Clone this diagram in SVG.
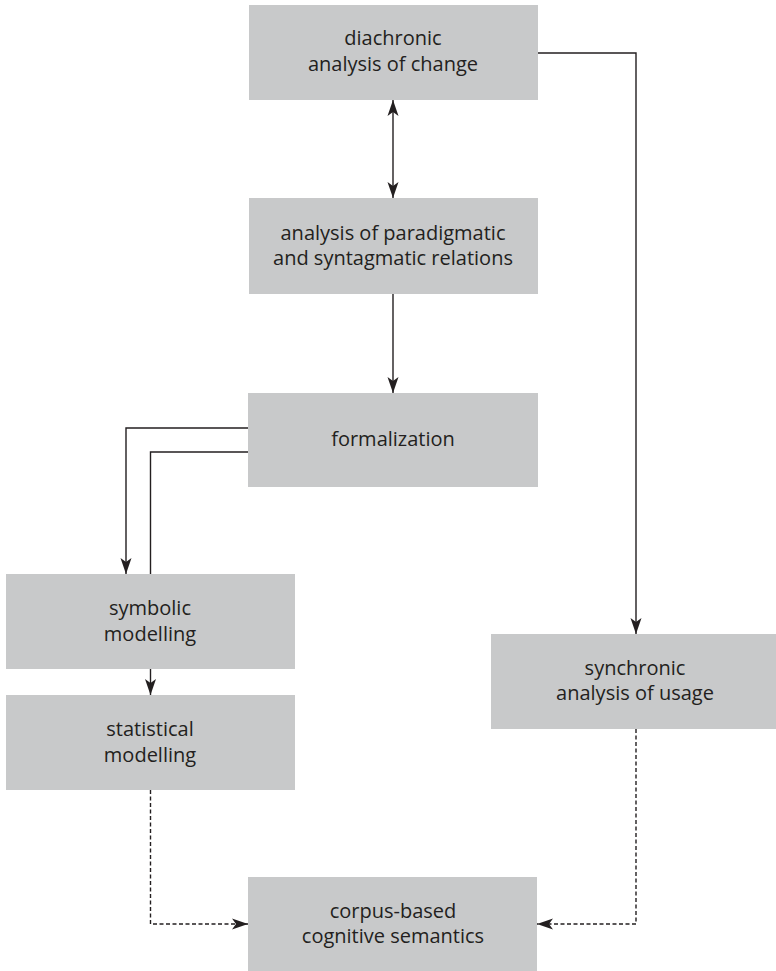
<svg xmlns="http://www.w3.org/2000/svg" width="776" height="971" viewBox="0 0 776 971">
<style>
.box{fill:#c8c9ca}
.t{font-family:"Open Sans","Noto Sans",sans-serif;font-size:20px;fill:#231f20;text-anchor:middle}
.c{fill:none;stroke:#231f20;stroke-width:1.4}
.d{stroke-dasharray:4 2.5}
</style>
<defs>
<marker id="ah" viewBox="-16 -6 17 12" refX="0" refY="0" markerWidth="17" markerHeight="12" markerUnits="userSpaceOnUse" orient="auto-start-reverse">
<path d="M0,0 L-16,-5.5 L-12,0 L-16,5.5 Z" fill="#231f20"/>
</marker>
</defs>
<g id="n-diachronic"><rect class="box" x="249" y="5" width="289" height="95"/><text class="t" x="393" y="45">diachronic</text><text class="t" x="393" y="71">analysis of change</text></g>
<g id="n-paradigmatic"><rect class="box" x="249" y="198" width="289" height="96"/><text class="t" x="393" y="240">analysis of paradigmatic</text><text class="t" x="393" y="265">and syntagmatic relations</text></g>
<g id="n-formalization"><rect class="box" x="248" y="393" width="290" height="94"/><text class="t" x="393" y="446">formalization</text></g>
<g id="n-symbolic"><rect class="box" x="6" y="574" width="289" height="95"/><text class="t" x="150" y="615">symbolic</text><text class="t" x="150" y="641">modelling</text></g>
<g id="n-statistical"><rect class="box" x="6" y="695" width="289" height="95"/><text class="t" x="150" y="736">statistical</text><text class="t" x="150" y="762">modelling</text></g>
<g id="n-synchronic"><rect class="box" x="491" y="634" width="285" height="95"/><text class="t" x="635" y="675">synchronic</text><text class="t" x="635" y="700">analysis of usage</text></g>
<g id="n-corpus"><rect class="box" x="248" y="877" width="289" height="94"/><text class="t" x="393" y="918">corpus-based</text><text class="t" x="393" y="943">cognitive semantics</text></g>
<g id="connectors">
<path class="c" d="M393,100 V198" marker-start="url(#ah)" marker-end="url(#ah)"/>
<path class="c" d="M538,53 H636 V634" marker-end="url(#ah)"/>
<path class="c" d="M393,294 V393" marker-end="url(#ah)"/>
<path class="c" d="M248,428 H126 V574" marker-end="url(#ah)"/>
<path class="c" d="M248,452 H150.5 V574"/>
<path class="c" d="M150.5,669 V695" marker-end="url(#ah)"/>
<path class="c d" d="M150.5,790 V924 H248" marker-end="url(#ah)"/>
<path class="c d" d="M636,729 V924 H537" marker-end="url(#ah)"/>
</g>
</svg>
